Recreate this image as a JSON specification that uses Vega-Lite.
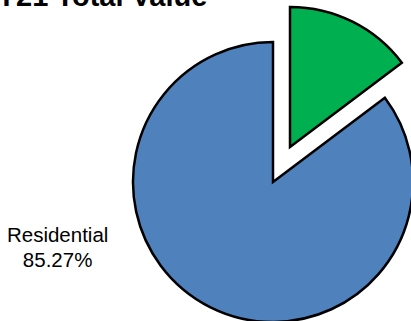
{
  "$schema": "https://vega.github.io/schema/vega-lite/v6.json",
  "width": 546,
  "height": 364,
  "autosize": "none",
  "padding": 0,
  "background": "white",
  "title": {
    "text": "FY21 Total Value",
    "anchor": "start",
    "orient": "top",
    "font": "Liberation Sans",
    "fontSize": 29,
    "fontWeight": "bold",
    "color": "black",
    "baseline": "alphabetic",
    "offset": -35,
    "dx": -21
  },
  "data": {
    "values": [
      {"type": "Non-Residential", "pct": 14.73, "order": 1, "label": ["Non-Residential", "14.73%"]},
      {"type": "Residential", "pct": 85.27, "order": 2, "label": ["Residential", "85.27%"]}
    ]
  },
  "layer": [
    {
      "mark": {"type": "arc", "radius": 140, "stroke": "black", "strokeWidth": 2.5, "strokeJoin": "miter"},
      "encoding": {
        "theta": {"field": "pct", "type": "quantitative", "stack": true},
        "order": {"field": "order", "type": "quantitative"},
        "color": {"field": "type", "type": "nominal", "scale": {"domain": ["Non-Residential", "Residential"], "range": ["#00B050", "#4F81BD"]}, "legend": null},
        "opacity": {"condition": {"test": "datum.type == 'Residential'", "value": 1}, "value": 0}
      }
    },
    {
      "mark": {"type": "arc", "radius": 140, "stroke": "black", "strokeWidth": 2.5, "strokeJoin": "miter", "xOffset": 17, "yOffset": -35},
      "encoding": {
        "theta": {"field": "pct", "type": "quantitative", "stack": true},
        "order": {"field": "order", "type": "quantitative"},
        "color": {"field": "type", "type": "nominal", "legend": null},
        "opacity": {"condition": {"test": "datum.type == 'Residential'", "value": 0}, "value": 1}
      }
    },
    {
      "transform": [{"filter": "datum.type == 'Residential'"}],
      "mark": {"type": "text", "radius": 222, "font": "Liberation Sans", "fontSize": 20.5, "lineHeight": 25, "align": "center", "baseline": "middle", "color": "black"},
      "encoding": {
        "theta": {"datum": 71.1, "type": "quantitative"},
        "text": {"field": "label"}
      }
    }
  ]
}
